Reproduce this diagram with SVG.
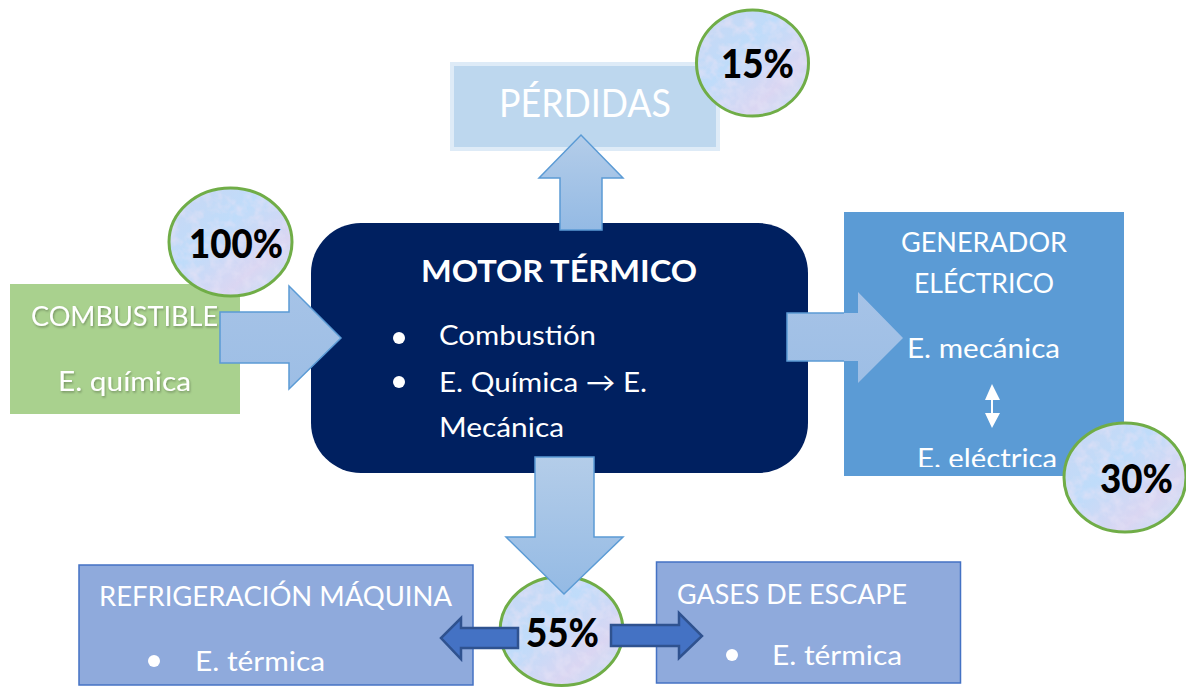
<svg xmlns="http://www.w3.org/2000/svg" width="1186" height="687" viewBox="0 0 1186 687">
<style>
text{font-family:"Lato","Liberation Sans",sans-serif;fill:#fff;font-size:27px}
.pct{font-weight:900;fill:#000;font-size:39px}
.shadow{filter:url(#ts)}
.blob{fill:url(#tex);filter:url(#mottle)}
.ring{fill:none;stroke:#70AD47;stroke-width:3}
.flow{fill:url(#ag);stroke:#5B9BD5;stroke-width:1.5}
.side{fill:#4472C4;stroke:#2F528F;stroke-width:2.5}
.box{fill:#8FAADC;stroke:#4472C4;stroke-width:1.5}
</style>
<defs>
<linearGradient id="ag" x1="0" y1="0" x2="0" y2="1"><stop offset="0" stop-color="#B4CDE9"/><stop offset="1" stop-color="#94BAE4"/></linearGradient>
<linearGradient id="ah" x1="0" y1="0" x2="0" y2="1"><stop offset="0" stop-color="#A6C3E7"/><stop offset="1" stop-color="#9DBEE5"/></linearGradient>
<linearGradient id="tex" x1="0" y1="0" x2="1" y2="1"><stop offset="0" stop-color="#CBD6F2"/><stop offset=".4" stop-color="#BFDCFA"/><stop offset=".72" stop-color="#DAD6F2"/><stop offset="1" stop-color="#C2E2F8"/></linearGradient>
<filter id="mottle" x="0" y="0" width="1" height="1">
<feTurbulence type="fractalNoise" baseFrequency="0.09" numOctaves="3" seed="7" result="n"/>
<feColorMatrix in="n" type="matrix" values="0 0 0 0 0.78  0 0 0 0 0.76  0 0 0 0 0.92  1.5 0 0 0 -0.6" result="c"/>
<feComposite in="c" in2="SourceGraphic" operator="in" result="m"/>
<feMerge><feMergeNode in="SourceGraphic"/><feMergeNode in="m"/></feMerge>
</filter>
<filter id="ts" x="-5%" y="-20%" width="110%" height="150%"><feDropShadow dx="1" dy="1.5" stdDeviation="1" flood-color="#000" flood-opacity=".3"/></filter>
<clipPath id="genclip"><rect x="844" y="212" width="280" height="255"/></clipPath>
</defs>

<g id="perdidas">
<rect x="452" y="64" width="266" height="85" fill="#BDD7EE" stroke="#DEEBF7" stroke-width="4"/>
<text x="499" y="117" style="font-size:38px" textLength="172" lengthAdjust="spacingAndGlyphs">PÉRDIDAS</text>
</g>
<g id="badge-15">
<ellipse class="blob" cx="752.500" cy="63" rx="56" ry="54"/><ellipse class="ring" cx="752.500" cy="63" rx="56" ry="53"/>
<text class="pct" x="721" y="78" textLength="73" lengthAdjust="spacingAndGlyphs">15%</text>
</g>
<g id="combustible">
<rect x="10" y="284" width="230" height="130" fill="#A9D18E"/>
<text class="shadow" x="31" y="326" textLength="187" lengthAdjust="spacingAndGlyphs">COMBUSTIBLE</text>
<text class="shadow" x="58" y="391" textLength="133" lengthAdjust="spacingAndGlyphs">E. química</text>
</g>
<g id="badge-100">
<ellipse class="blob" cx="230.500" cy="242" rx="62" ry="54"/><ellipse class="ring" cx="230.500" cy="242" rx="61.500" ry="54"/>
<text class="pct" x="189" y="258" textLength="94" lengthAdjust="spacingAndGlyphs">100%</text>
</g>
<g id="motor">
<rect x="311" y="223" width="497" height="250" rx="50" fill="#002060"/>
<text x="421" y="282" style="font-size:31px;font-weight:700" textLength="276" lengthAdjust="spacingAndGlyphs">MOTOR TÉRMICO</text>
<circle cx="399" cy="338" r="6" fill="#fff"/>
<text x="439" y="345" textLength="157" lengthAdjust="spacingAndGlyphs">Combustión</text>
<circle cx="399" cy="382" r="6" fill="#fff"/>
<text x="439" y="392" textLength="208" lengthAdjust="spacingAndGlyphs">E. Química → E.</text>
<text x="439" y="437" textLength="125" lengthAdjust="spacingAndGlyphs">Mecánica</text>
</g>
<g id="generador">
<rect x="844" y="212" width="280" height="264" fill="#5B9BD5"/>
<text x="901" y="252" textLength="166" lengthAdjust="spacingAndGlyphs">GENERADOR</text>
<text x="914" y="293" textLength="140" lengthAdjust="spacingAndGlyphs">ELÉCTRICO</text>
<text x="907" y="358" textLength="153" lengthAdjust="spacingAndGlyphs">E. mecánica</text>
<path d="M992 384L1000 400H993V413H1000L992 428L985 413H991V400H985Z" fill="#fff"/>
<g clip-path="url(#genclip)"><text x="917" y="468" textLength="140" lengthAdjust="spacingAndGlyphs">E. eléctrica</text></g>
</g>
<g id="badge-30">
<ellipse class="blob" cx="1125" cy="477.500" rx="62" ry="55.500"/><ellipse class="ring" cx="1125" cy="477.500" rx="61" ry="54.500"/>
<text class="pct" x="1100" y="493" textLength="73" lengthAdjust="spacingAndGlyphs">30%</text>
</g>
<g id="refrigeracion">
<rect class="box" x="79" y="565" width="394" height="120"/>
<text x="99" y="606" textLength="353" lengthAdjust="spacingAndGlyphs">REFRIGERACIÓN MÁQUINA</text>
<circle cx="154" cy="661" r="6" fill="#fff"/>
<text x="195" y="671" textLength="130" lengthAdjust="spacingAndGlyphs">E. térmica</text>
</g>
<g id="gases">
<rect class="box" x="656.500" y="562" width="304" height="121"/>
<text x="677" y="604" textLength="230" lengthAdjust="spacingAndGlyphs">GASES DE ESCAPE</text>
<circle cx="732" cy="655" r="6" fill="#fff"/>
<text x="772" y="665" textLength="130" lengthAdjust="spacingAndGlyphs">E. térmica</text>
</g>
<g id="badge-55">
<ellipse class="blob" cx="561.500" cy="631" rx="62" ry="55"/><ellipse class="ring" cx="561.500" cy="631" rx="61.500" ry="54.500"/>
</g>
<g id="connectors">
<path class="flow" style="fill:url(#ah)" d="M220 312H289V286L341 338L289 389V363H220Z"/>
<path class="flow" d="M560 230V178H539L581 135L623 178H602V230Z"/>
<path d="M787 313H858V292L903 338L858 383V361H787Z" fill="url(#ah)"/>
<path d="M844 313H787V361H844" fill="none" stroke="#5B9BD5" stroke-width="1.5"/>
<path class="flow" d="M535 457H594V537H623L564 594L506 537H535Z"/>
<path class="side" d="M518 628H461V618L441 638L461 659V648H518Z"/>
<path class="side" d="M611 625H679V613L702 636L679 658V646H611Z"/>
</g>
<text class="pct" x="526" y="647" textLength="73" lengthAdjust="spacingAndGlyphs">55%</text>
</svg>
